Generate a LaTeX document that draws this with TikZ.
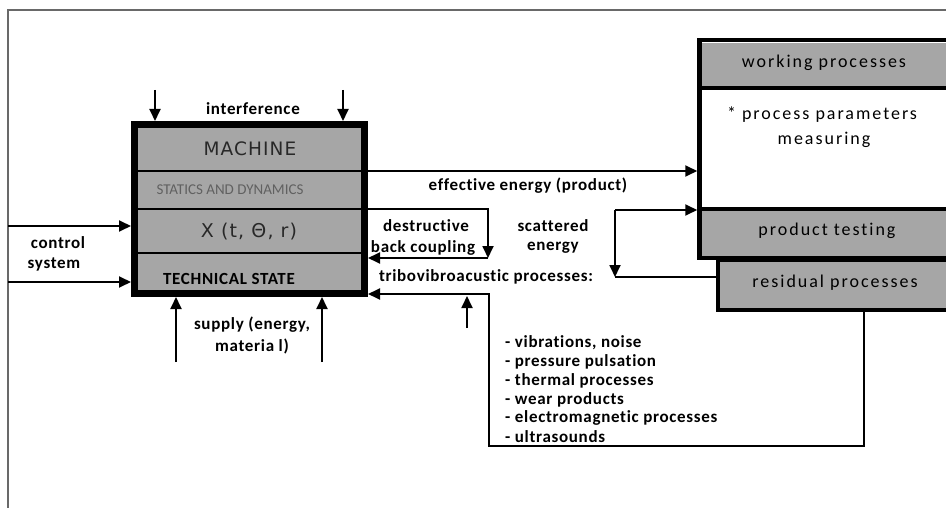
\documentclass[tikz,border=0pt]{standalone}
\usepackage{fontspec}
\setmainfont{Carlito}
\newfontfamily\spaced[LetterSpace=4,Ligatures=NoCommon]{Carlito}
\newfontfamily\wide[LetterSpace=11,Ligatures=NoCommon]{Carlito}
\newfontfamily\dejawide[LetterSpace=6]{DejaVu Sans}
\usetikzlibrary{arrows.meta}
\definecolor{boxgray}{RGB}{166,166,166}
\definecolor{framegray}{RGB}{105,105,105}
\definecolor{inkgray}{RGB}{40,40,40}
\begin{document}
\begin{tikzpicture}[x=1pt,y=-1pt,
  conn/.style={line width=1.8pt},
  arr/.style={line width=1.8pt,-{Triangle[length=12pt,width=11pt]}},
  divline/.style={line width=2pt},
  lbl/.style={inner sep=0pt,font=\spaced\bfseries\fontsize{17}{19}\selectfont},
  rtxt/.style={inner sep=0pt,font=\wide\fontsize{18}{20}\selectfont},
  item/.style={inner sep=0pt,anchor=west,font=\spaced\bfseries\fontsize{17}{19}\selectfont},
  mbox/.style={draw,line width=7pt,fill=boxgray},
  rbox/.style={draw,line width=4.5pt}]
\useasboundingbox (0,0) rectangle (946,508);
\clip (0,0) rectangle (946,508);

% page frame
\draw[framegray,line width=2pt] (8,508) -- (8,10) -- (946,10);

% machine block
\node[mbox,minimum width=230pt,minimum height=169pt] (machine) at (249.5,209) {};
\draw[divline] (138,171) -- (361,171);
\draw[divline] (138,209) -- (361,209);
\draw[divline] (138,253) -- (361,253);
\node[inner sep=0pt,text=inkgray,font=\dejawide\fontsize{18.5}{20}\selectfont] (mtitle) at (250,149) {MACHINE};
\node[inner sep=0pt,text=black!62,font=\fontsize{15}{17}\selectfont] (mstat) at (230,190) {STATICS AND DYNAMICS};
\node[inner sep=0pt,text=inkgray,font=\dejawide\fontsize{19}{21}\selectfont] (mx) at (249,232) {X (t, Θ, r)};
\node[inner sep=0pt,font=\spaced\bfseries\fontsize{17}{19}\selectfont] (mstate) at (229,279) {TECHNICAL STATE};

% working processes / product testing block
\node[rbox,fill=white,minimum width=271pt,minimum height=218pt] (wp) at (835,149) {};
\fill[boxgray] (702,43) rectangle (975,88);
\fill[boxgray] (702,209) rectangle (975,256);
\draw[line width=4pt] (699.5,88) -- (975,88);
\draw[line width=4.5pt] (699.5,209) -- (975,209);
\node[rtxt] (wptitle) at (824,63) {working processes};
\node[rtxt] (wpparam) at (822,115) {* process parameters};
\node[rtxt] (wpmeas) at (824,140) {measuring};
\node[rtxt] (ptest) at (827,231) {product testing};

% residual processes block
\node[rbox,line width=4pt,fill=boxgray,minimum width=250pt,minimum height=50pt] (res) at (843,285) {};
\node[rtxt] (restxt) at (835,283) {residual processes};

% labels
\node[lbl] (interf) at (253,109) {interference};
\node[lbl] (ctrl1) at (58,243) {control};
\node[lbl] (ctrl2) at (54,264) {system};
\node[lbl] (sup1) at (252,325) {supply (energy,};
\node[lbl] (sup2) at (252,346) {materia l)};
\node[lbl] (effl) at (528,186) {effective energy (product)};
\node[lbl] (dest1) at (426,226) {destructive};
\node[lbl] (dest2) at (423,248) {back coupling};
\node[lbl] (scat1) at (553,226) {scattered};
\node[lbl] (scat2) at (553,248) {energy};
\node[lbl] (tribo) at (486,277) {tribovibroacustic processes:};

% list of tribovibroacoustic processes
\node[item] (l1) at (505,343) {- vibrations, noise};
\node[item] (l2) at (505,362) {- pressure pulsation};
\node[item] (l3) at (505,381) {- thermal processes};
\node[item] (l4) at (505,400) {- wear products};
\node[item] (l5) at (505,418) {- electromagnetic processes};
\node[item] (l6) at (505,437) {- ultrasounds};

% free ends and bends
\coordinate (i1) at (155,90);
\coordinate (i2) at (343,90);
\coordinate (c1) at (8,226);
\coordinate (c2) at (8,282);
\coordinate (p1) at (176,362);
\coordinate (p2) at (322,362);
\coordinate (eff) at (530,171);
\coordinate (d1) at (488,209);
\coordinate (d2) at (488,258);
\coordinate (s1) at (615,210);
\coordinate (s2) at (615,277);
\coordinate (t1) at (489,294);
\coordinate (b0) at (489,446);
\coordinate (b1) at (864,446);
\coordinate (u0) at (467,328);
\coordinate (u1) at (467,296);

% connectors
\draw[arr] (i1) -- (i1 |- machine.north);
\draw[arr] (i2) -- (i2 |- machine.north);
\draw[arr] (c1) -- (c1 -| machine.west);
\draw[arr] (c2) -- (c2 -| machine.west);
\draw[arr] (p1) -- (p1 |- machine.south);
\draw[arr] (p2) -- (p2 |- machine.south);
\draw[arr] (eff -| machine.east) -- (eff -| wp.west);
\draw[arr] (d1 -| machine.east) -- (d1) -- (d2);
\draw[arr] (d2) -- (d2 -| machine.east);
\draw[arr] (s1) -- (s1 -| wp.west);
\draw[arr] (s1) -- (s2);
\draw[conn] (s2) -- (s2 -| res.west);
\draw[arr] (res.south -| b1) -- (b1) -- (b0) -- (t1) -- (t1 -| machine.east);
\draw[arr] (u0) -- (u1);
\end{tikzpicture}
\end{document}
